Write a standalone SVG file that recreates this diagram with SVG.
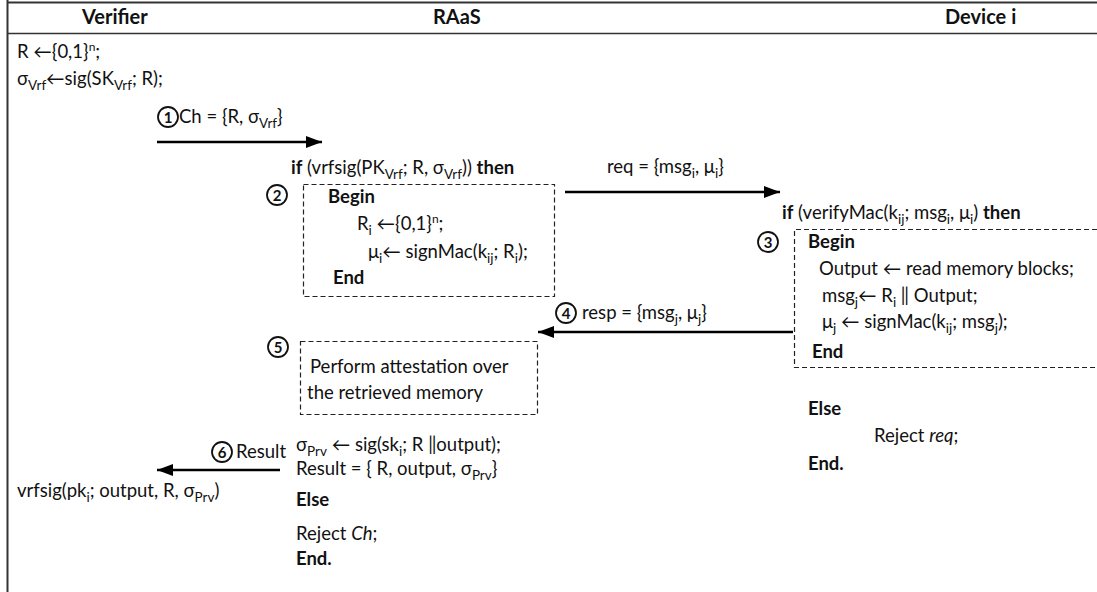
<svg xmlns="http://www.w3.org/2000/svg" width="1097" height="592" viewBox="0 0 1097 592">
  <defs>
    <style>
      text { font-family: Lato, "Liberation Sans", sans-serif; font-size: 18.5px; fill: #111; }
      .b { font-weight: bold; }
      .i { font-style: italic; }
      .sub { font-size: 13.5px; }
      .sup { font-size: 12px; }
      .hdr { font-weight: bold; font-size: 20px; }
      .num { font-weight: bold; font-size: 15px; text-anchor: middle; }
      .circ { fill: #fff; stroke: #111; stroke-width: 1.8; }
      .dash { fill: none; stroke: #222; stroke-width: 1.2; stroke-dasharray: 5 3; }
      .frame { stroke: #333; fill: none; }
      .msg { stroke: #000; stroke-width: 2.6; fill: none; marker-end: url(#head); }
    </style>
    <marker id="head" markerUnits="userSpaceOnUse" markerWidth="17" markerHeight="14" refX="16" refY="7" orient="auto">
      <path d="M0,1 L16,7 L0,13 Z" fill="#000"/>
    </marker>
  </defs>

  <!-- table frame -->
  <g id="frame">
    <line class="frame" x1="7" y1="2.5" x2="1097" y2="2.5" stroke="#555" stroke-width="2"/>
    <line class="frame" x1="7" y1="33.5" x2="1097" y2="33.5" stroke-width="1.6"/>
    <line class="frame" x1="7.5" y1="0" x2="7.5" y2="592" stroke-width="2"/>
    <text class="hdr" x="82" y="24">Verifier</text>
    <text class="hdr" x="433" y="24">RAaS</text>
    <text class="hdr" x="945" y="24">Device i</text>
  </g>

  <!-- verifier: challenge generation -->
  <g id="verifier-init">
    <text x="17" y="58">R ←{0,1}<tspan class="sup" dy="-7">n</tspan><tspan dy="7">;</tspan></text>
    <text x="17" y="85">σ<tspan class="sub" dy="5">Vrf</tspan><tspan dy="-5">←sig(SK</tspan><tspan class="sub" dy="5">Vrf</tspan><tspan dy="-5">; R);</tspan></text>
  </g>

  <!-- step 1 -->
  <g id="step1">
    <circle class="circ" cx="168" cy="117" r="10"/>
    <text class="num" x="168" y="122.5">1</text>
    <text x="179" y="123">Ch = {R, σ<tspan class="sub" dy="5">Vrf</tspan><tspan dy="-5">}</tspan></text>
  </g>

  <!-- step 2: RAaS checks the challenge -->
  <g id="step2">
    <text x="291" y="174"><tspan class="b">if</tspan> (vrfsig(PK<tspan class="sub" dy="5">Vrf</tspan><tspan dy="-5">; R, σ</tspan><tspan class="sub" dy="5">Vrf</tspan><tspan dy="-5">)) </tspan><tspan class="b">then</tspan></text>
    <circle class="circ" cx="277" cy="195" r="10"/>
    <text class="num" x="277" y="200.5">2</text>
    <rect class="dash" x="303.5" y="184.5" width="251" height="112"/>
    <text class="b" x="328" y="203">Begin</text>
    <text x="357" y="230">R<tspan class="sub" dy="5">i</tspan><tspan dy="-5"> ←{0,1}</tspan><tspan class="sup" dy="-7">n</tspan><tspan dy="7">;</tspan></text>
    <text x="368" y="258">μ<tspan class="sub" dy="5">i</tspan><tspan dy="-5">← signMac(k</tspan><tspan class="sub" dy="5">ij</tspan><tspan dy="-5">; R</tspan><tspan class="sub" dy="5">i</tspan><tspan dy="-5">);</tspan></text>
    <text class="b" x="333" y="284">End</text>
  </g>

  <!-- step 3: device verifies and reads memory -->
  <g id="step3">
    <text x="782" y="219"><tspan class="b">if</tspan> (verifyMac(k<tspan class="sub" dy="5">ij</tspan><tspan dy="-5">; msg</tspan><tspan class="sub" dy="5">i</tspan><tspan dy="-5">, μ</tspan><tspan class="sub" dy="5">i</tspan><tspan dy="-5">) </tspan><tspan class="b">then</tspan></text>
    <circle class="circ" cx="768" cy="242" r="10"/>
    <text class="num" x="768" y="247.5">3</text>
    <path class="dash" d="M1097,229.5 H794.5 V367.5 H1097"/>
    <text class="b" x="808" y="248">Begin</text>
    <text x="819" y="275">Output ← read memory blocks;</text>
    <text x="822" y="302">msg<tspan class="sub" dy="5">j</tspan><tspan dy="-5">← R</tspan><tspan class="sub" dy="5">i</tspan><tspan dy="-5"> ‖ Output;</tspan></text>
    <text x="822" y="328">μ<tspan class="sub" dy="5">j</tspan><tspan dy="-5"> ← signMac(k</tspan><tspan class="sub" dy="5">ij</tspan><tspan dy="-5">; msg</tspan><tspan class="sub" dy="5">j</tspan><tspan dy="-5">);</tspan></text>
    <text class="b" x="812" y="358">End</text>
    <text class="b" x="808" y="415">Else</text>
    <text x="874" y="442">Reject <tspan class="i">req</tspan>;</text>
    <text class="b" x="808" y="470">End.</text>
  </g>

  <!-- step 5: attestation at RAaS -->
  <g id="step5">
    <circle class="circ" cx="278" cy="347" r="10"/>
    <text class="num" x="278" y="352.5">5</text>
    <rect class="dash" x="300.5" y="341.5" width="237" height="73"/>
    <text x="310" y="373">Perform attestation over</text>
    <text x="307" y="399">the retrieved memory</text>
  </g>

  <!-- RAaS: sign and return the result -->
  <g id="raas-result">
    <text x="296" y="451">σ<tspan class="sub" dy="5">Prv</tspan><tspan dy="-5"> ← sig(sk</tspan><tspan class="sub" dy="5">i</tspan><tspan dy="-5">; R ‖output);</tspan></text>
    <text x="296" y="475">Result = { R, output, σ<tspan class="sub" dy="5">Prv</tspan><tspan dy="-5">}</tspan></text>
    <text class="b" x="296" y="506">Else</text>
    <text x="296" y="540">Reject <tspan class="i">Ch</tspan>;</text>
    <text class="b" x="296" y="565">End.</text>
  </g>

  <!-- verifier: final check -->
  <g id="verifier-check">
    <text x="17" y="497">vrfsig(pk<tspan class="sub" dy="5">i</tspan><tspan dy="-5">; output, R, σ</tspan><tspan class="sub" dy="5">Prv</tspan><tspan dy="-5">)</tspan></text>
  </g>

  <!-- message arrows and their labels -->
  <g id="connectors">
    <line class="msg" x1="157" y1="142" x2="322" y2="142"/>
    <line class="msg" x1="565" y1="192" x2="780" y2="192"/>
    <text x="607" y="173">req = {msg<tspan class="sub" dy="5">i</tspan><tspan dy="-5">,  μ</tspan><tspan class="sub" dy="5">i</tspan><tspan dy="-5">}</tspan></text>
    <line class="msg" x1="793" y1="332" x2="538" y2="332"/>
    <circle class="circ" cx="566" cy="313" r="10"/>
    <text class="num" x="566" y="318.5">4</text>
    <text x="582" y="319">resp = {msg<tspan class="sub" dy="5">j</tspan><tspan dy="-5">,  μ</tspan><tspan class="sub" dy="5">j</tspan><tspan dy="-5">}</tspan></text>
    <line class="msg" x1="280" y1="470" x2="157" y2="470"/>
    <circle class="circ" cx="222" cy="452" r="10"/>
    <text class="num" x="222" y="457.5">6</text>
    <text x="236" y="458">Result</text>
  </g>
</svg>
